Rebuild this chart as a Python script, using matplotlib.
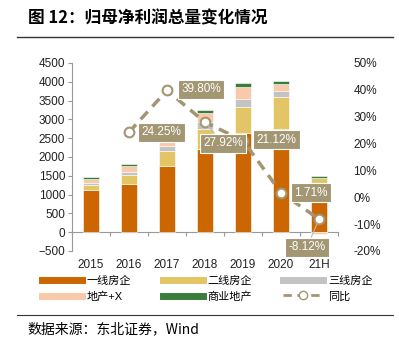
import matplotlib.pyplot as plt
import numpy as np
from matplotlib.lines import Line2D

plt.rcParams['font.family'] = ['Liberation Sans', 'Noto Sans CJK SC', 'DejaVu Sans']

# data
years = ['2015', '2016', '2017', '2018', '2019', '2020', '21H']
tier1 = [1120, 1290, 1750, 2200, 2640, 2750, 1320]
tier2 = [140, 240, 420, 540, 700, 845, 120]
tier3 = [45, 60, 110, 200, 205, 170, 10]
plus_x = [105, 160, 220, 240, 310, 185, -60]
commercial = [50, 70, 70, 70, 105, 60, 40]
yoy_x = [1, 2, 3, 4, 5, 6]
yoy = [24.25, 39.80, 27.92, 21.12, 1.71, -8.12]

series_names = ['一线房企', '二线房企', '三线房企', '地产+X', '商业地产']
series = [tier1, tier2, tier3, plus_x, commercial]
colors = ['#CC6600', '#E3C565', '#C3C3C3', '#F9C9AA', '#3B7D3B']
line_color = '#A39672'

fig = plt.figure(figsize=(3.99, 3.42), dpi=100)
ax = fig.add_axes([0.1805, 0.2661, 0.6667, 0.5497])
ax2 = ax.twinx()

x = np.arange(len(years))
pos_bottom = np.zeros(len(years))
neg_bottom = np.zeros(len(years))
for vals, c in zip(series, colors):
    vals = np.array(vals, dtype=float)
    bottom = np.where(vals >= 0, pos_bottom, neg_bottom)
    ax.bar(x, vals, 0.42, bottom=bottom, color=c, edgecolor='white', linewidth=0.4)
    pos_bottom += np.where(vals >= 0, vals, 0)
    neg_bottom += np.where(vals < 0, vals, 0)

ax.set_xlim(-0.5, len(years) - 0.5)
ax.set_ylim(-500, 4500)
ax.set_yticks(np.arange(-500, 4501, 500))
ax.set_xticks(x)
ax.set_xticklabels(years)
ax.tick_params(axis='x', length=0, labelsize=8.5, pad=6, colors='#222222')
ax.tick_params(axis='y', length=3, labelsize=8.5, colors='#222222', pad=2)
ax.tick_params(axis='y', color='#999999')
for s in ['top', 'right', 'bottom']:
    ax.spines[s].set_visible(False)
ax.spines['left'].set_color('#999999')

# zero line with ticks between categories
sec = ax.secondary_xaxis(0.1)
sec.set_xticks(np.arange(-0.5, len(years), 1))
sec.tick_params(labelbottom=False, length=3, color='#999999')
sec.spines['bottom'].set_color('#999999')

# yoy line
ax2.plot(yoy_x, yoy, color=line_color, lw=2.5, ls=(0, (3, 2)), marker='o', ms=7,
         mfc='white', mec=line_color, mew=1.5, zorder=3)
ax2.set_ylim(-20, 50)
ax2.set_yticks(np.arange(-20, 51, 10))
ax2.set_yticklabels([f'{v}%' for v in range(-20, 51, 10)])
ax2.tick_params(axis='y', length=0, labelsize=8.5, pad=11, colors='#222222')
for s in ax2.spines.values():
    s.set_visible(False)

offsets = [(32, 0), (34, 1), (18, -21), (33, 1), (30, 0), (-12, -28)]
for xi, v, off in zip(yoy_x, yoy, offsets):
    arrow = None
    if off[1] < -10:
        arrow = dict(arrowstyle='-', color='#BBBBBB', lw=0.8, shrinkA=0, shrinkB=3)
    ax2.annotate(f'{v:.2f}%', (xi, v), xytext=off, textcoords='offset pixels',
                 ha='center', va='center', fontsize=8.5, color='white',
                 bbox=dict(boxstyle='square,pad=0.3', fc=line_color, ec='white', lw=0.8),
                 arrowprops=arrow, zorder=5)

# legend
handles = [Line2D([], [], color=c, lw=5) for c in colors]
handles.append(Line2D([], [], color=line_color, lw=2, ls=(0, (3, 2)), marker='o', ms=6,
                      mfc='white', mec=line_color))
labels = series_names + ['同比']
order = [0, 3, 1, 4, 2, 5]
fig.legend([handles[i] for i in order], [labels[i] for i in order], ncol=3,
           loc='upper left', bbox_to_anchor=(0.105, 0.195), frameon=False,
           fontsize=8, handlelength=3.6, handletextpad=0.45, columnspacing=2.8,
           labelspacing=0.5, borderpad=0, borderaxespad=0)

# title and source
fig.text(0.07, 0.947, '图 12：归母净利润总量变化情况', fontsize=12, fontweight='bold',
         va='center', ha='left', family=['Noto Sans CJK SC'])
fig.add_artist(Line2D([0.043, 0.985], [0.892, 0.892], color='#333333', lw=1))
fig.add_artist(Line2D([0.043, 0.985], [0.079, 0.079], color='#333333', lw=0.8))
fig.text(0.068, 0.038, '数据来源：东北证券，Wind', fontsize=10, va='center', ha='left',
         family=['Noto Sans CJK SC'])

fig.savefig('out.png', dpi=100)
